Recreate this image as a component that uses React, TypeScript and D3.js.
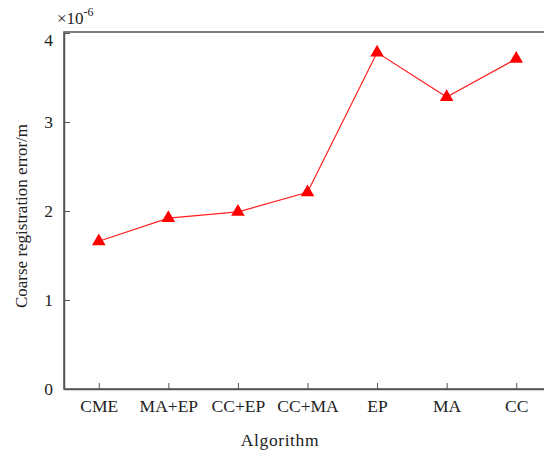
import React, { useEffect, useRef } from "react";
import * as d3 from "d3";

const categories = ["CME", "MA+EP", "CC+EP", "CC+MA", "EP", "MA", "CC"];
const errors = [1.66, 1.92, 1.99, 2.21, 3.78, 3.28, 3.71];
const yTicks = [0, 1, 2, 3, 4];

const App = () => {
  const ref = useRef<SVGSVGElement>(null);

  useEffect(() => {
    const w = 552;
    const h = 454;
    const m = { left: 64, right: 1, top: 33, bottom: 65 };
    const svg = d3.select(ref.current).attr("width", w).attr("height", h);
    svg.selectAll("*").remove();

    const font = "'Liberation Serif', 'Times New Roman', serif";
    const axisColor = "#555";
    const textColor = "#222";

    const x = d3.scalePoint<string>()
      .domain(categories)
      .range([m.left, w - m.right])
      .padding(0.5);
    const y = d3.scaleLinear().domain([0, 4]).range([h - m.bottom, m.top]);

    // frame
    svg.append("rect")
      .attr("x", m.left)
      .attr("y", m.top - 1)
      .attr("width", w - m.right - m.left)
      .attr("height", h - m.bottom - m.top + 1)
      .attr("fill", "white")
      .attr("stroke", axisColor)
      .attr("stroke-width", 1.5);

    // axes with inward ticks
    const xAxis = d3.axisBottom(x).tickSizeInner(-6).tickSizeOuter(0).tickPadding(11);
    const gx = svg.append("g")
      .attr("transform", `translate(0, ${h - m.bottom})`)
      .call(xAxis);
    gx.select(".domain").attr("stroke", axisColor).attr("stroke-width", 1.5);
    gx.selectAll(".tick line").attr("stroke", axisColor);
    gx.selectAll(".tick text")
      .attr("font-family", font)
      .attr("font-size", 17.5)
      .attr("fill", textColor);

    const yAxis = d3.axisLeft(y)
      .tickValues(yTicks)
      .tickFormat(d3.format("d"))
      .tickSizeInner(-6)
      .tickSizeOuter(0)
      .tickPadding(11);
    const gy = svg.append("g")
      .attr("transform", `translate(${m.left}, 0)`)
      .call(yAxis);
    gy.select(".domain").attr("stroke", axisColor).attr("stroke-width", 1.5);
    gy.selectAll(".tick line").attr("stroke", axisColor);
    gy.selectAll(".tick text")
      .attr("font-family", font)
      .attr("font-size", 17.5)
      .attr("fill", textColor);
    // top label sits a little lower, below the frame line
    gy.selectAll<SVGGElement, number>(".tick")
      .filter(d => d === 4)
      .select("text")
      .attr("dy", "0.32em")
      .attr("y", 7);

    // exponent label
    const exp = svg.append("text")
      .attr("x", 57)
      .attr("y", 24)
      .attr("font-family", font)
      .attr("font-size", 17)
      .attr("fill", textColor);
    exp.append("tspan").text("×10");
    exp.append("tspan").attr("dy", -8).attr("font-size", 12).text("-6");

    // line + markers
    const line = d3.line<number>()
      .x((d, i) => x(categories[i])!)
      .y(d => y(d));
    svg.append("path")
      .datum(errors)
      .attr("d", line)
      .attr("fill", "none")
      .attr("stroke", "#ff2020")
      .attr("stroke-width", 1.2);

    const tri = d3.symbol().type(d3.symbolTriangle).size(80);
    svg.selectAll(".mark")
      .data(errors)
      .join("path")
      .attr("class", "mark")
      .attr("d", tri)
      .attr("transform", (d, i) => `translate(${x(categories[i])}, ${y(d)})`)
      .attr("fill", "#ff0000");

    // axis titles
    svg.append("text")
      .attr("x", 280)
      .attr("y", 446)
      .attr("text-anchor", "middle")
      .attr("font-family", font)
      .attr("font-size", 17.5)
      .attr("fill", textColor)
      .attr("letter-spacing", 0.6)
      .text("Algorithm");

    svg.append("text")
      .attr("transform", `translate(27, 216) rotate(-90)`)
      .attr("text-anchor", "middle")
      .attr("font-family", font)
      .attr("font-size", 17)
      .attr("fill", textColor)
      .text("Coarse registration error/m");
  }, []);

  return (
    <div style={{ margin: -8 }}>
      <svg ref={ref}></svg>
    </div>
  );
};

export default App;
